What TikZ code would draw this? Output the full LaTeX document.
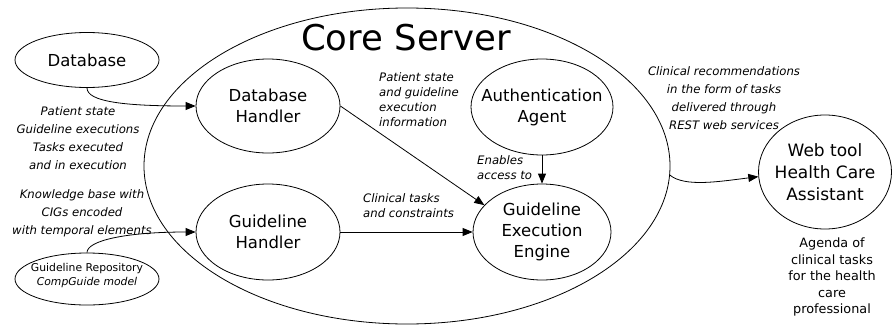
\documentclass[tikz,border=0pt]{standalone}
\usepackage{fontspec}
\setmainfont{DejaVu Sans}
\usetikzlibrary{shapes.geometric,arrows.meta}
\begin{document}
\begin{tikzpicture}[x=1pt,y=-1pt,
  blob/.style={draw, ellipse, line width=0.8pt, inner sep=0pt},
  nodetext/.style={font=\fontsize{16.5}{21}\selectfont, align=center, inner sep=0pt},
  lab/.style={font=\fontsize{11.7}{18}\selectfont\itshape, align=center, inner sep=0pt},
  labl/.style={font=\fontsize{11.7}{15}\selectfont\itshape, align=left, inner sep=0pt, anchor=west},
  conn/.style={line width=0.8pt, -{Triangle[length=10pt,width=8pt]}},
]
\useasboundingbox (0,0) rectangle (893,332);

% containers and nodes
\node[blob, minimum width=526pt, minimum height=316pt] (core) at (407,166) {};
\node[font=\fontsize{35.5}{40}\selectfont, inner sep=0pt] (coretitle) at (406,38) {Core Server};

\node[blob, minimum width=144pt, minimum height=55pt] (db) at (87,60) {};
\node[nodetext] (dbt) at (db.center) {Database};

\node[blob, minimum width=144pt, minimum height=94pt] (dbh) at (268,106) {};
\node[nodetext] (dbht) at (dbh.center) {Database\\Handler};

\node[blob, minimum width=142pt, minimum height=96pt] (aa) at (542,107) {};
\node[nodetext] (aat) at (aa.center) {Authentication\\Agent};

\node[blob, minimum width=144pt, minimum height=96pt] (gh) at (268,232) {};
\node[nodetext] (ght) at (gh.center) {Guideline\\Handler};

\node[blob, minimum width=138pt, minimum height=96pt] (gee) at (542,232) {};
\node[nodetext] (geet) at (gee.center) {Guideline\\Execution\\Engine};

\node[blob, minimum width=133pt, minimum height=114pt] (web) at (825,172) {};
\node[nodetext, font=\fontsize{17}{22}\selectfont] (webt) at (web.center) {Web tool\\Health Care\\Assistant};

\node[blob, minimum width=144pt, minimum height=52pt] (gr) at (87,279) {};
\node[font=\fontsize{10.8}{14}\selectfont, align=center, inner sep=0pt] (grt) at (87,276) {Guideline Repository\\\textit{CompGuide model}};

% labels
\node[lab] (l1) at (78,138) {Patient state\\Guideline executions\\Tasks executed\\and in execution};
\node[lab] (l2) at (82,213) {Knowledge base with\\CIGs encoded\\with temporal elements};
\node[labl] (l3) at (379,100) {Patient state\\and guideline\\execution\\information};
\node[labl] (l4) at (477,168) {Enables\\access to};
\node[labl] (l5) at (363,206) {Clinical tasks\\and constraints};
\node[lab] (l6) at (724,98) {Clinical recommendations\\in the form of tasks\\delivered through\\REST web services};
\node[font=\fontsize{12.8}{16.5}\selectfont, align=center, inner sep=0pt] (l7) at (832,277) {Agenda of\\clinical tasks\\for the health\\care\\professional};

% connectors
\draw[conn] (db.south) .. controls +(0,14) and +(-70,0) .. (dbh.west);
\draw[conn] (gr.north) .. controls +(0,-12) and +(-70,0) .. (gh.west);
\draw[conn] (dbh.east) -- (gee.155);
\draw[conn] (gh.east) -- (gee.west);
\draw[conn] (aa.south) -- (gee.north);
\draw[conn] (core.-2) .. controls +(15,12) and +(-40,5) .. (web.184);
\end{tikzpicture}
\end{document}
